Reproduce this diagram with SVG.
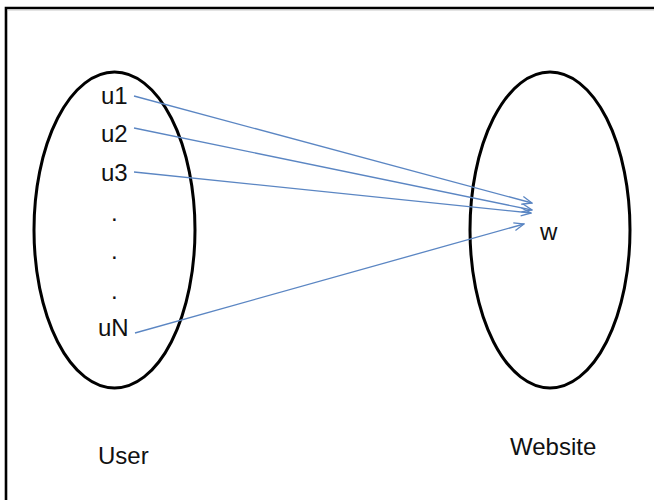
<svg xmlns="http://www.w3.org/2000/svg" width="654" height="500" viewBox="0 0 654 500">
  <defs>
    <style>
      .set { fill: none; stroke: #000; stroke-width: 3; }
      .lbl { font-family: "Liberation Sans", Arial, sans-serif; font-size: 24px; fill: #111; }
      .cap { font-family: "Liberation Sans", Arial, sans-serif; font-size: 24px; fill: #111; }
      .link { fill: none; stroke: #5b86c3; stroke-width: 1.3; marker-end: url(#open); }
    </style>
    <marker id="open" viewBox="0 0 12 10" refX="11" refY="5" markerWidth="12" markerHeight="10" markerUnits="userSpaceOnUse" orient="auto">
      <path d="M1,1 L11,5 L1,9" fill="none" stroke="#5b86c3" stroke-width="1.3"/>
    </marker>
  </defs>
  <rect width="654" height="500" fill="#fff"/>
  <!-- frame -->
  <path d="M6,500 V8 H654" fill="none" stroke="#000" stroke-width="2.6"/>
  <line x1="7.5" y1="10" x2="654" y2="10" stroke="#c8c8c8" stroke-width="1"/>

  <g id="user">
    <ellipse class="set" cx="114.5" cy="230" rx="80.5" ry="158"/>
    <text class="lbl" x="101" y="104">u1</text>
    <text class="lbl" x="101" y="142">u2</text>
    <text class="lbl" x="101" y="181">u3</text>
    <text class="lbl" x="111" y="221">.</text>
    <text class="lbl" x="111" y="259">.</text>
    <text class="lbl" x="111" y="299">.</text>
    <text class="lbl" x="98" y="336">uN</text>
    <text class="cap" x="98" y="464">User</text>
  </g>

  <g id="website">
    <ellipse class="set" cx="550" cy="230" rx="80" ry="158"/>
    <text class="lbl" x="540" y="240">w</text>
    <text class="cap" x="510" y="455">Website</text>
  </g>

  <g id="connectors">
    <line class="link" x1="134" y1="96" x2="532" y2="203"/>
    <line class="link" x1="134" y1="128" x2="532" y2="210"/>
    <line class="link" x1="134" y1="172" x2="531" y2="213"/>
    <line class="link" x1="135" y1="333" x2="524" y2="224"/>
  </g>
</svg>
